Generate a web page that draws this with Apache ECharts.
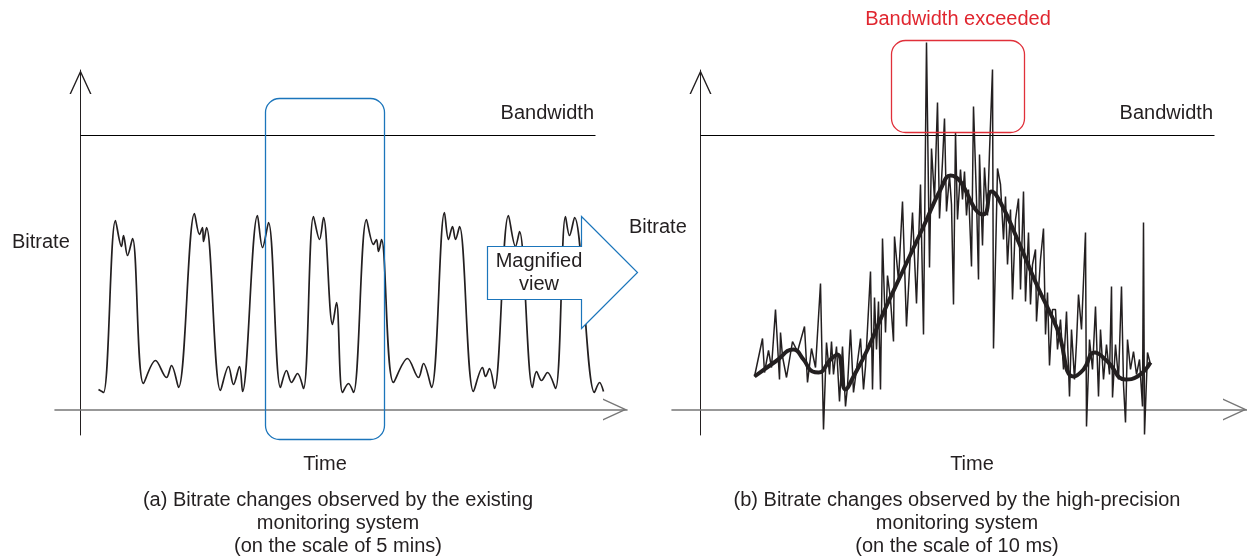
<!DOCTYPE html>
<html>
<head>
<meta charset="utf-8">
<style>
  html, body { margin: 0; padding: 0; background: #fff; }
  #chart { width: 1247px; height: 558px; }
</style>
<script src="https://cdn.jsdelivr.net/npm/echarts@6/dist/echarts.min.js"></script>
</head>
<body>
<div id="chart"></div>
<script>
// units: time and bitrate are arbitrary (diagram has no ticks)
var bandwidth = 274
var bandwidthEnd = [515, 514]

// (a) existing monitoring system, 5 min scale  [time, bitrate]
var coarseSignal = [
  [18, 20], [23, 17], [35, 189], [41, 163], [43, 174], [47, 154], [52, 171], [63, 26],
  [75, 49], [86, 32], [91, 44], [98, 22], [114, 196], [119, 175], [122, 182], [123, 168],
  [126, 182], [140, 19], [148, 43], [153, 25], [159, 43], [162, 18], [177, 194], [182, 162],
  [188, 187], [200, 22], [206, 39], [211, 27], [217, 36], [223, 21], [233, 193], [239, 170],
  [243, 192], [252, 85], [256, 107], [262, 17], [268, 26], [273, 17], [286, 190], [293, 165],
  [296, 170], [298, 158], [301, 170], [313, 27], [327, 51], [338, 32], [343, 46], [351, 22],
  [364, 197], [368, 170], [372, 183], [375, 170], [379, 183], [393, 18], [402, 42], [405, 33],
  [409, 41], [414, 21], [428, 194], [435, 163], [439, 178], [452, 22], [456, 38], [461, 29],
  [467, 37], [475, 21], [485, 193], [489, 174], [494, 192], [514, 17], [519, 27], [523, 18]
]

// (b) high-precision monitoring system, 10 ms scale
var fineSignal = [
  [54, 33], [62, 71], [64, 37], [68, 59], [71, 42], [75, 100], [79, 30], [80, 77], [82, 53],
  [86, 32], [92, 68], [97, 58], [104, 83], [107, 27], [111, 61], [115, 42], [120, 126],
  [123, -20], [126, 67], [129, 35], [131, 68], [133, 35], [136, 63], [139, 8], [142, 63],
  [145, 3], [147, 23], [150, 80], [153, 17], [156, 40], [160, 71], [163, 20], [165, 43],
  [170, 138], [172, 20], [174, 112], [176, 60], [178, 108], [180, 20], [182, 171], [185, 77],
  [187, 134], [190, 110], [193, 68], [194, 173], [198, 129], [202, 208], [206, 83], [212, 197],
  [216, 106], [220, 225], [223, 75], [226, 367], [229, 142], [231, 261], [234, 210], [237, 307],
  [239, 191], [242, 248], [244, 291], [246, 198], [249, 234], [251, 205], [253, 105], [255, 277],
  [257, 190], [260, 240], [262, 210], [264, 238], [266, 194], [268, 220], [271, 143], [273, 303],
  [276, 210], [278, 130], [279, 255], [282, 164], [284, 242], [287, 194], [289, 258], [292, 340],
  [293, 61], [297, 241], [300, 225], [303, 170], [305, 213], [307, 145], [310, 200], [312, 110],
  [315, 190], [318, 211], [320, 120], [323, 218], [325, 108], [328, 177], [330, 105], [332, 145],
  [335, 160], [336, 88], [340, 150], [343, 181], [345, 75], [347, 117], [349, 44], [352, 100],
  [355, 100], [357, 60], [360, 90], [363, 40], [366, 98], [369, 13], [371, 80], [374, 30],
  [376, 67], [378, 115], [381, 80], [385, 177], [386, -17], [389, 70], [392, 40], [395, 103],
  [398, 13], [400, 80], [403, 30], [406, 65], [409, 35], [411, 123], [412, 12], [415, 65],
  [418, 30], [421, 123], [423, 25], [425, -13], [427, 70], [430, 40], [433, 58], [436, 35],
  [439, 50], [442, 3], [443, 187], [444, -25], [447, 57], [450, 45]
]

var fineTrend = [
  [54, 33], [75, 48], [93, 60], [103, 50], [112, 38], [118, 37], [130, 50], [137, 55],
  [145, 20], [153, 33], [167, 60], [183, 97], [203, 140], [223, 183], [240, 220], [250, 234],
  [283, 195], [291, 218], [300, 207], [317, 170], [337, 123], [357, 80], [373, 33], [383, 40],
  [394, 57], [407, 48], [425, 30], [437, 33], [450, 47]
]

// callouts, in each panel's own data units
var zoomBox = { time: [185, 304], bitrate: [-30, 311] }
var exceedBox = { time: [191, 324], bitrate: [277, 369] }
var magnifyArrow = { tail: 407, neck: 501, tip: 557, body: [110, 163], head: [81, 193] }

var ink = '#231f20'
var font = '"Liberation Sans", Arial, Helvetica, sans-serif'
var chevron = 'path://M0,24L11,0L22,24L20.5,24L11,3.3L1.5,24Z'

var chart = echarts.init(document.getElementById('chart'))

// half-unit offsets keep the 1px lines on whole pixels
function xAxis (idx, min) {
  return {
    type: 'value', gridIndex: idx, min: min, max: 546.5,
    axisLine: {
      onZero: true, symbol: ['none', chevron], symbolSize: [22, 24], symbolOffset: [0, -12],
      lineStyle: { color: '#777', width: 1.6 }
    },
    axisTick: { show: false }, axisLabel: { show: false }, splitLine: { show: false }
  }
}
function yAxis (idx) {
  return {
    type: 'value', gridIndex: idx, min: -25.5, max: 339.5,
    axisLine: {
      onZero: true, symbol: ['none', chevron], symbolSize: [22, 24], symbolOffset: [0, -12],
      lineStyle: { color: ink, width: 1 }
    },
    axisTick: { show: false }, axisLabel: { show: false }, splitLine: { show: false }
  }
}
function lineSeries (idx, data, width, smooth, color) {
  return {
    type: 'line', xAxisIndex: idx, yAxisIndex: idx, data: data,
    smooth: smooth, showSymbol: false, clip: false, silent: true,
    lineStyle: { color: color || ink, width: width }
  }
}

chart.setOption({
  animation: false,
  grid: [
    { left: 55, width: 572, top: 70, height: 365 },
    { left: 672, width: 575, top: 70, height: 365 }
  ],
  xAxis: [xAxis(0, -25.5), xAxis(1, -28.5)],
  yAxis: [yAxis(0), yAxis(1)],
  series: [
    lineSeries(0, [[0, bandwidth], [bandwidthEnd[0], bandwidth]], 1, false, '#000'),
    lineSeries(0, coarseSignal, 1.7, 0.35),
    lineSeries(1, [[0, bandwidth], [bandwidthEnd[1], bandwidth]], 1, false, '#000'),
    lineSeries(1, fineSignal, 1.5, false),
    lineSeries(1, fineTrend, 4, 0.5)
  ]
})

function px (grid, t, b) {
  return chart.convertToPixel({ gridIndex: grid }, [t, b])
}
function roundBox (grid, box, color) {
  var a = px(grid, box.time[0], box.bitrate[1])
  var b = px(grid, box.time[1], box.bitrate[0])
  return {
    type: 'rect', z: 10,
    shape: { x: a[0], y: a[1], width: b[0] - a[0], height: b[1] - a[1], r: 14 },
    style: { fill: 'none', stroke: color, lineWidth: 1.3 }
  }
}
function label (text, x, y, align, color) {
  return {
    type: 'text', x: x, y: y, z: 20,
    style: {
      text: text, font: '20px ' + font, fill: color || ink,
      align: align || 'center', verticalAlign: 'middle', lineHeight: 23
    }
  }
}

var m = magnifyArrow
var arrowPts = [
  px(0, m.tail, m.body[1]), px(0, m.neck, m.body[1]), px(0, m.neck, m.head[1]),
  px(0, m.tip, (m.head[0] + m.head[1]) / 2), px(0, m.neck, m.head[0]),
  px(0, m.neck, m.body[0]), px(0, m.tail, m.body[0])
]

chart.setOption({
  graphic: [
    roundBox(0, zoomBox, '#1b75bb'),
    roundBox(1, exceedBox, '#e0303a'),
    {
      type: 'polygon', z: 15, shape: { points: arrowPts },
      style: { fill: '#fff', stroke: '#1b75bb', lineWidth: 1.2 }
    },
    label('Magnified\nview', 539, 273),
    label('Bitrate', 12, 242, 'left'),
    label('Bitrate', 629, 227, 'left'),
    label('Bandwidth', 594, 113, 'right'),
    label('Bandwidth', 1213, 113, 'right'),
    label('Bandwidth exceeded', 958, 19, 'center', '#e0262f'),
    label('Time', 325, 464),
    label('Time', 972, 464),
    label('(a) Bitrate changes observed by the existing\nmonitoring system\n(on the scale of 5 mins)', 338, 523),
    label('(b) Bitrate changes observed by the high-precision\nmonitoring system\n(on the scale of 10 ms)', 957, 523)
  ]
})
</script>
</body>
</html>
